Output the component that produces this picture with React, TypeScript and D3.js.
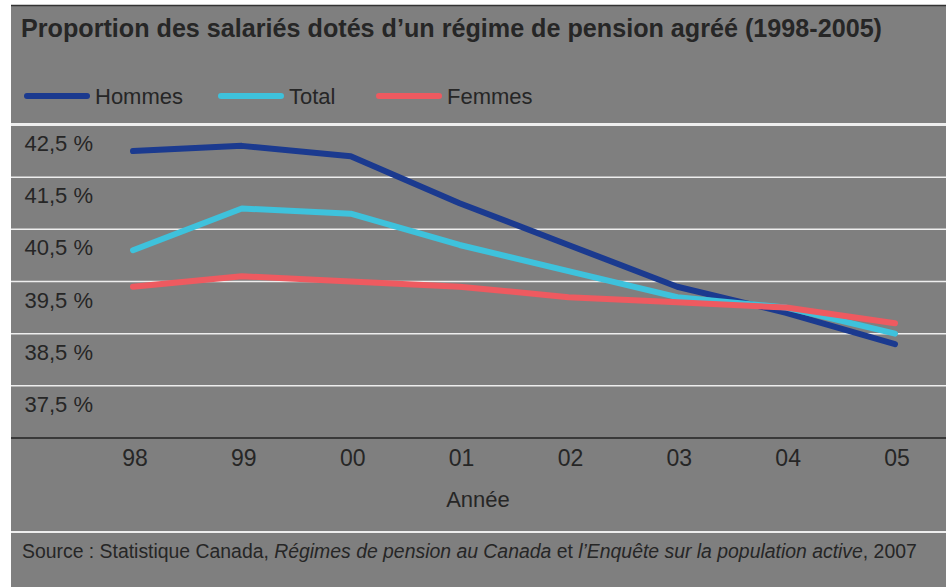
import React, { useEffect, useRef } from "react";
import * as d3 from "d3";

// data
const years = ["98", "99", "00", "01", "02", "03", "04", "05"];
const hommes = [42.0, 42.1, 41.9, 41.0, 40.2, 39.4, 38.9, 38.3];
const total = [40.1, 40.9, 40.8, 40.2, 39.7, 39.2, 39.0, 38.5];
const femmes = [39.4, 39.6, 39.5, 39.4, 39.2, 39.1, 39.0, 38.7];
const yTicks = [42.5, 41.5, 40.5, 39.5, 38.5, 37.5];

const series = [
  { name: "Hommes", values: hommes, color: "#1b3a8f" },
  { name: "Total", values: total, color: "#3ec2dc" },
  { name: "Femmes", values: femmes, color: "#ee5a60" },
];

const W = 946;
const H = 587;
const BG = "#7f7f7f";
const INK = "#262626";
const FONT = "'Liberation Sans', Arial, sans-serif";

export default function App() {
  const ref = useRef<SVGSVGElement>(null);

  useEffect(() => {
    const svg = d3.select(ref.current);
    svg.selectAll("*").remove();

    // panels
    svg.append("rect").attr("width", W).attr("height", H).attr("fill", "#fff");
    svg.append("rect").attr("x", 11).attr("y", 5).attr("width", W - 11).attr("height", H - 5).attr("fill", BG);
    svg.append("line").attr("x1", 11).attr("x2", W).attr("y1", 5.5).attr("y2", 5.5).attr("stroke", "#333").attr("stroke-width", 1.5);

    // title
    svg.append("text")
      .attr("x", 21).attr("y", 37)
      .attr("font-family", FONT).attr("font-weight", 700).attr("font-size", 25)
      .attr("fill", INK)
      .attr("textLength", 861).attr("lengthAdjust", "spacingAndGlyphs")
      .text("Proportion des salariés dotés d’un régime de pension agréé (1998-2005)");

    // legend
    const legX = [27, 221, 379];
    series.forEach((s, i) => {
      const x0 = legX[i];
      svg.append("line")
        .attr("x1", x0).attr("x2", x0 + 60).attr("y1", 96).attr("y2", 96)
        .attr("stroke", s.color).attr("stroke-width", 6).attr("stroke-linecap", "round");
      svg.append("text")
        .attr("x", x0 + 68).attr("y", 104)
        .attr("font-family", FONT).attr("font-size", 22).attr("fill", INK)
        .text(s.name);
    });

    const x = d3.scalePoint<string>().domain(years).range([133, 895]);
    const y = d3.scaleLinear().domain([36.5, 42.5]).range([438, 125]);

    // plot separator + gridlines
    svg.append("line").attr("x1", 11).attr("x2", W).attr("y1", 124.5).attr("y2", 124.5)
      .attr("stroke", "#eeeeee").attr("stroke-width", 3);
    svg.selectAll("line.grid")
      .data(yTicks.slice(1))
      .enter().append("line")
      .attr("class", "grid")
      .attr("x1", 11).attr("x2", W)
      .attr("y1", (d) => y(d)).attr("y2", (d) => y(d))
      .attr("stroke", "#eeeeee").attr("stroke-width", 1.5);
    svg.append("line").attr("x1", 11).attr("x2", W).attr("y1", y(36.5)).attr("y2", y(36.5))
      .attr("stroke", "#222").attr("stroke-width", 1.5);

    // y labels hang below their gridline
    svg.selectAll("text.ylab")
      .data(yTicks)
      .enter().append("text")
      .attr("class", "ylab")
      .attr("x", 93).attr("y", (d) => y(d) + 26)
      .attr("text-anchor", "end")
      .attr("font-family", FONT).attr("font-size", 22).attr("fill", INK)
      .text((d) => d3.format(".1f")(d).replace(".", ",") + " %");

    // x labels
    svg.selectAll("text.xlab")
      .data(years)
      .enter().append("text")
      .attr("class", "xlab")
      .attr("x", (d) => (x(d) as number) + 2).attr("y", 466)
      .attr("text-anchor", "middle")
      .attr("font-family", FONT).attr("font-size", 23).attr("fill", INK)
      .text((d) => d);

    svg.append("text")
      .attr("x", 478).attr("y", 507).attr("text-anchor", "middle")
      .attr("font-family", FONT).attr("font-size", 22).attr("fill", INK)
      .text("Année");

    // lines
    const line = d3.line<number>()
      .x((_, i) => x(years[i]) as number)
      .y((d) => y(d));
    series.forEach((s) => {
      svg.append("path")
        .attr("d", line(s.values))
        .attr("fill", "none")
        .attr("stroke", s.color)
        .attr("stroke-width", 6)
        .attr("stroke-linecap", "round")
        .attr("stroke-linejoin", "round");
    });

    // source
    svg.append("line").attr("x1", 11).attr("x2", W).attr("y1", 532).attr("y2", 532)
      .attr("stroke", "#eeeeee").attr("stroke-width", 2);
    const src = svg.append("text")
      .attr("x", 22).attr("y", 558)
      .attr("font-family", FONT).attr("font-size", 19.4).attr("fill", INK);
    src.append("tspan").text("Source : Statistique Canada, ");
    src.append("tspan").attr("font-style", "italic").text("Régimes de pension au Canada");
    src.append("tspan").text(" et ");
    src.append("tspan").attr("font-style", "italic").text("l’Enquête sur la population active");
    src.append("tspan").text(", 2007");
  }, []);

  return (
    <svg
      ref={ref}
      width={W}
      height={H}
      style={{ position: "absolute", left: 0, top: 0, display: "block" }}
    />
  );
}
